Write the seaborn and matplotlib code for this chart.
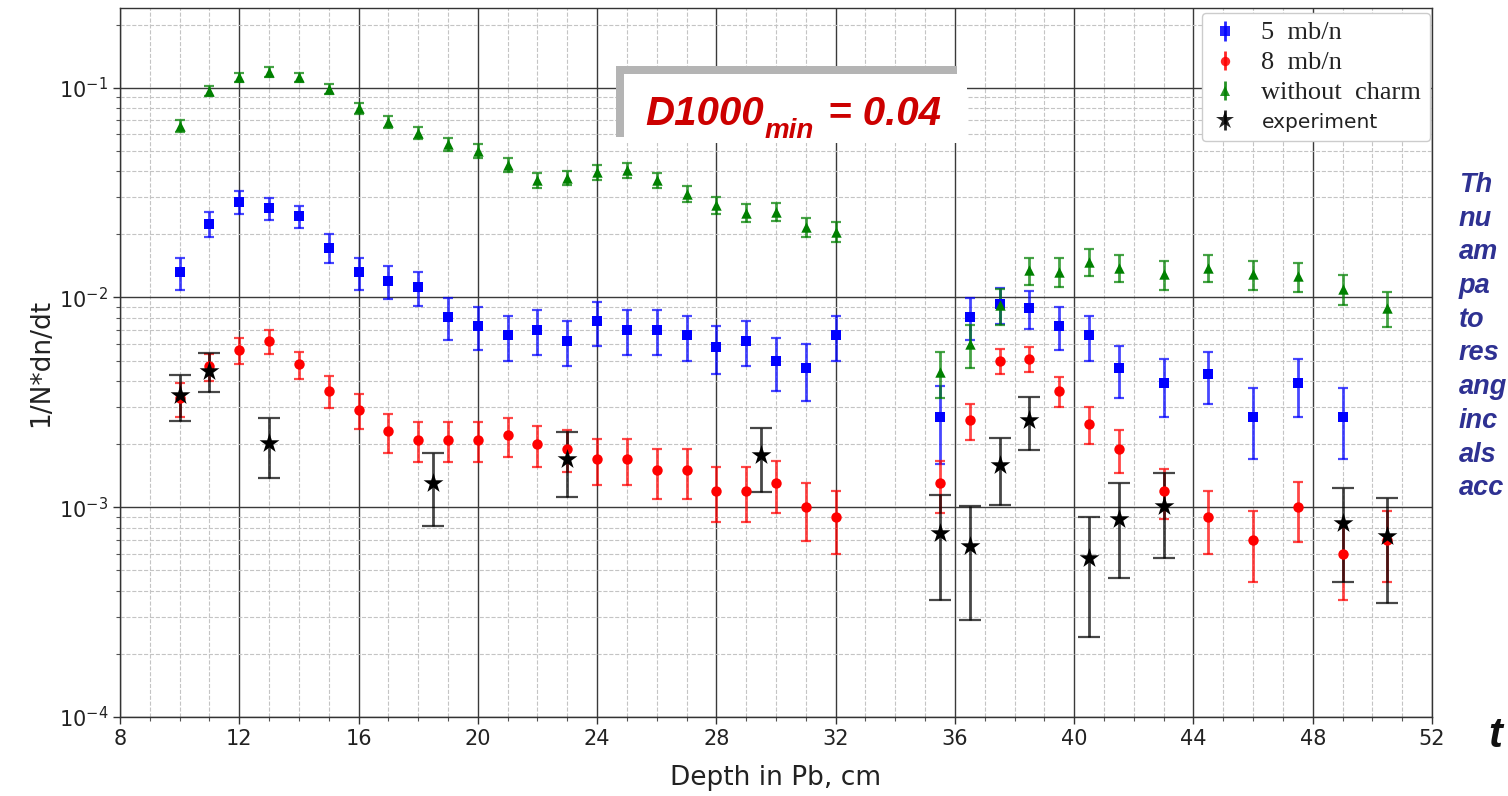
import numpy as np
import pandas as pd
import matplotlib
matplotlib.use("Agg")
import matplotlib.pyplot as plt
import matplotlib.ticker as mticker
from matplotlib.patches import Rectangle
import seaborn as sns

# ---------------- data ----------------
depth_sim = [10, 11, 12, 13, 14, 15, 16, 17, 18, 19, 20, 21, 22, 23, 24, 25, 26, 27, 28, 29, 30, 31, 32,
             35.5, 36.5, 37.5, 38.5, 39.5, 40.5, 41.5, 43, 44.5, 46, 47.5, 49, 50.5]

depth_blue = depth_sim[:-1]
val_5mb = [0.0132, 0.0225, 0.0286, 0.0266, 0.0244, 0.0173, 0.0132, 0.0120, 0.0112, 0.0081, 0.0073, 0.0066,
           0.0070, 0.0062, 0.0077, 0.0070, 0.0070, 0.0066, 0.0058, 0.0062, 0.0050, 0.0046, 0.0066,
           0.0027, 0.0081, 0.0093, 0.0089, 0.0073, 0.0066, 0.0046, 0.0039, 0.0043, 0.0027, 0.0039, 0.0027]
err_5mb = [0.0023, 0.0031, 0.0035, 0.0033, 0.0030, 0.0027, 0.0023, 0.0022, 0.0021, 0.0018, 0.0017, 0.0016,
           0.0017, 0.0015, 0.0018, 0.0017, 0.0017, 0.0016, 0.0015, 0.0015, 0.0014, 0.0014, 0.0016,
           0.0011, 0.0018, 0.0018, 0.0018, 0.0017, 0.0016, 0.0013, 0.0012, 0.0012, 0.0010, 0.0012, 0.0010]

val_8mb = [0.0033, 0.0047, 0.0056, 0.0062, 0.0048, 0.0036, 0.0029, 0.0023, 0.0021, 0.0021, 0.0021, 0.0022,
           0.0020, 0.0019, 0.0017, 0.0017, 0.0015, 0.0015, 0.0012, 0.0012, 0.0013, 0.0010, 0.0009,
           0.0013, 0.0026, 0.0050, 0.0051, 0.0036, 0.0025, 0.0019, 0.0012, 0.0009, 0.0007, 0.0010, 0.0006, 0.0007]
err_8mb = [0.0006, 0.0007, 0.0008, 0.0008, 0.0007, 0.00063, 0.00055, 0.00048, 0.00046, 0.00045, 0.00045, 0.00047,
           0.00045, 0.00043, 0.00042, 0.00042, 0.0004, 0.0004, 0.00035, 0.00035, 0.00036, 0.00031, 0.0003,
           0.00036, 0.0005, 0.0007, 0.0007, 0.0006, 0.0005, 0.00044, 0.00032, 0.0003, 0.00026, 0.00032, 0.00024, 0.00026]

val_nocharm = [0.066, 0.097, 0.112, 0.119, 0.112, 0.099, 0.080, 0.069, 0.061, 0.054, 0.050, 0.043,
               0.0363, 0.0373, 0.0397, 0.0405, 0.0363, 0.0313, 0.0275, 0.0253, 0.0256, 0.0217, 0.0206,
               0.0044, 0.0060, 0.0092, 0.0135, 0.0133, 0.0148, 0.0139, 0.0129, 0.0139, 0.0129, 0.0126, 0.0110, 0.0089]
err_nocharm = [0.0043, 0.0055, 0.006, 0.006, 0.006, 0.0055, 0.005, 0.0045, 0.004, 0.0038, 0.0037, 0.0033,
               0.003, 0.003, 0.0032, 0.0032, 0.003, 0.0028, 0.0026, 0.0025, 0.0025, 0.0023, 0.0023,
               0.0011, 0.0014, 0.0018, 0.002, 0.0021, 0.0022, 0.002, 0.002, 0.002, 0.002, 0.002, 0.0018, 0.0017]

depth_exp = [10, 11, 13, 18.5, 23, 29.5, 35.5, 36.5, 37.5, 38.5, 40.5, 41.5, 43, 49, 50.5]
val_exp = [0.00344, 0.00448, 0.00202, 0.00131, 0.0017, 0.00178, 0.00075, 0.00065, 0.00159, 0.00262,
           0.00057, 0.00088, 0.00101, 0.00084, 0.00073]
err_exp = [0.00085, 0.00095, 0.00064, 0.0005, 0.00058, 0.0006, 0.00039, 0.00036, 0.00056, 0.00074,
           0.00033, 0.00042, 0.00044, 0.0004, 0.00038]

series_labels = ["5  mb/n", "8  mb/n", "without  charm", "experiment"]
x_ticks = [8, 12, 16, 20, 24, 28, 32, 36, 40, 44, 48, 52]
side_text = ["Th", "nu", "am", "pa", "to", "res", "ang", "inc", "als", "acc"]

# ---------------- style ----------------
sns.set_theme(style="white")
plt.rcParams['font.family'] = ['DejaVu Sans']

W, H = 1508, 796
fig = plt.figure(figsize=(W / 100, H / 100), dpi=100)
ax = fig.add_axes([120 / W, 1 - 717 / H, 1312 / W, 709 / H])
ax.set_yscale('log')

specs = [
    (depth_blue, val_5mb, err_5mb, '#0000ff', 's', 7.5, 3.5),
    (depth_sim, val_8mb, err_8mb, '#ff0000', 'o', 7.5, 3.5),
    (depth_sim, val_nocharm, err_nocharm, '#008000', '^', 7.5, 3.5),
    (depth_exp, val_exp, err_exp, '#000000', '*', 15, 8),
]

handles = []
for (xs, ys, es, col, mk, ms, cs), lab in zip(specs, series_labels):
    df = pd.DataFrame({"depth": xs, "val": ys, "err": es})
    ax.errorbar(df["depth"], df["val"], yerr=df["err"], fmt='none', ecolor=col,
                elinewidth=2.0, capsize=cs, capthick=1.6, alpha=0.72, zorder=2)
    sns.scatterplot(data=df, x="depth", y="val", marker=mk, color=col, s=ms ** 2,
                    linewidth=0, ax=ax, zorder=3, legend=False)
    # legend proxy (no visible data)
    proxy = ax.errorbar([np.nan], [np.nan], yerr=[1.0], fmt=mk, color=col, ecolor=col,
                        markersize=ms * 0.9, markeredgewidth=0, elinewidth=2.0,
                        capsize=cs * 0.8, capthick=1.6, alpha=0.85)
    handles.append(proxy)

ax.set_xlim(8, 52)
ax.set_ylim(1e-4, 0.24)
ax.set_xticks(x_ticks)
ax.xaxis.set_minor_locator(mticker.MultipleLocator(1))
ax.yaxis.set_major_locator(mticker.LogLocator(base=10, numticks=10))
ax.yaxis.set_minor_locator(mticker.LogLocator(base=10, subs=np.arange(2, 10), numticks=20))
ax.yaxis.set_minor_formatter(mticker.NullFormatter())

ax.grid(which='major', color='#3a3a3a', lw=1.0, ls='-')
ax.grid(which='minor', color='#c4c4c4', lw=0.8, ls='--')
ax.set_axisbelow(True)
ax.tick_params(which='major', bottom=True, left=True, direction='out', length=5, width=1,
               color='#333333', labelsize=15, labelcolor='#222222')
ax.tick_params(which='minor', bottom=True, left=True, direction='out', length=3, width=0.8,
               color='#555555')
for sp in ax.spines.values():
    sp.set_color('#333333')
    sp.set_linewidth(1.0)

ax.set_xlabel("Depth in Pb, cm", fontsize=19, color='#222222', labelpad=12)
ax.set_ylabel("1/N*dn/dt", fontsize=19, color='#222222', labelpad=3)

leg = ax.legend(handles, series_labels, loc='upper right', bbox_to_anchor=(1.0, 0.995),
                fontsize=14, frameon=True, fancybox=True, framealpha=1.0, edgecolor='#cccccc',
                handlelength=1.5, handletextpad=1.1, labelspacing=0.4, borderpad=0.45,
                borderaxespad=0.1, handleheight=1.2)
for i, t in enumerate(leg.get_texts()):
    if i < 3:
        t.set_fontfamily('Liberation Serif')
        t.set_fontsize(19)
    else:
        t.set_fontsize(14.5)
    t.set_color('#222222')

# ---------------- annotation box ----------------
fig.patches.append(Rectangle((616 / W, 1 - 137 / H), (957 - 616) / W, (137 - 66) / H,
                             transform=fig.transFigure, facecolor='#b4b4b4', edgecolor='none', zorder=5))
fig.patches.append(Rectangle((624 / W, 1 - 143 / H), (967 - 624) / W, (143 - 74) / H,
                             transform=fig.transFigure, facecolor='white', edgecolor='none', zorder=6))

red = '#cc0000'
font_kw = dict(fontweight='bold', fontstyle='italic', family='Liberation Sans', color=red, zorder=7)
renderer = fig.canvas.get_renderer()
base_y = 1 - 125 / H
t1 = fig.text(645 / W, base_y, "D1000", fontsize=29, va='baseline', ha='left', **font_kw)
bb1 = t1.get_window_extent(renderer)
t2 = fig.text((bb1.x1 + 1) / W, 1 - 138 / H, "min", fontsize=20, va='baseline', ha='left', **font_kw)
bb2 = t2.get_window_extent(renderer)
fig.text((bb2.x1 + 3) / W, base_y, " = 0.04", fontsize=29, va='baseline', ha='left', **font_kw)

# ---------------- side text (cut-off slide text) ----------------
for i, s in enumerate(side_text):
    fig.text(1459 / W, 1 - (192 + 33.7 * i) / H, s, fontsize=19.5, fontweight='bold', fontstyle='italic',
             family='Liberation Sans', color='#2E3192', va='baseline', ha='left')
fig.text(1488 / W, 1 - 747 / H, "t", fontsize=30, fontweight='bold', fontstyle='italic',
         family='Liberation Sans', color='#111111', va='baseline', ha='left')

fig.savefig("out.png", dpi=100)
